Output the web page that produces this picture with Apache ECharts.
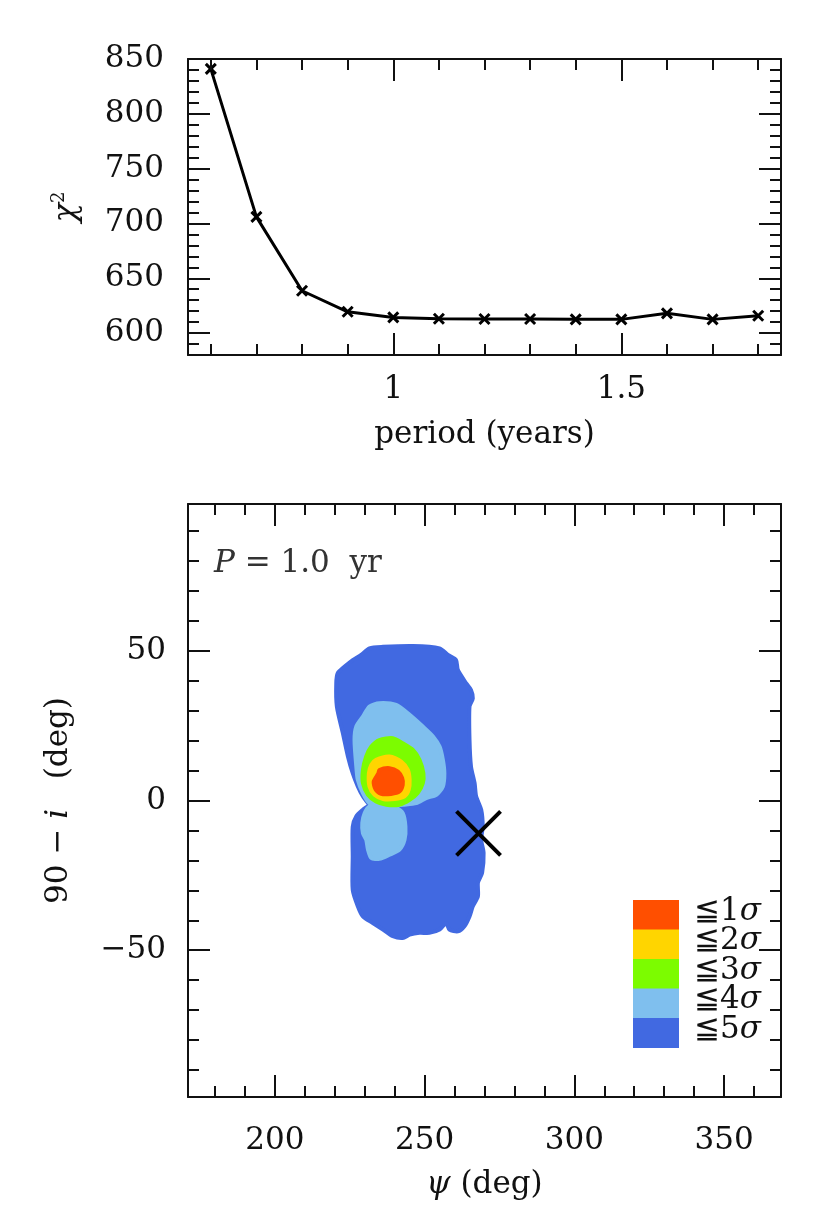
<!DOCTYPE html>
<html>
<head>
<meta charset="utf-8">
<script src="https://cdn.jsdelivr.net/npm/echarts@6/dist/echarts.min.js"></script>
<style>
html,body{margin:0;padding:0;background:#fff;}
#chart{width:830px;height:1226px;}
</style>
</head>
<body>
<div id="chart"></div>
<script>
// ---------- data: top panel ----------
const periods = [0.6, 0.7, 0.8, 0.9, 1.0, 1.1, 1.2, 1.3, 1.4, 1.5, 1.6, 1.7, 1.8];
const chi2 = [841, 706, 638.6, 619.4, 614.3, 613.1, 612.8, 612.8, 612.5, 612.5, 618, 612.5, 615.8];

const topXMinor = [0.6, 0.7, 0.8, 0.9, 1.0, 1.1, 1.2, 1.3, 1.4, 1.5, 1.6, 1.7, 1.8];
const topXMajor = [1.0, 1.5];
const topXLabels = [1, 1.5];
const topYMinor = [590, 600, 610, 620, 630, 640, 650, 660, 670, 680, 690, 700, 710, 720, 730, 740, 750, 760, 770, 780, 790, 800, 810, 820, 830, 840];
const topYMajor = [600, 650, 700, 750, 800, 850];
const topYLabels = [600, 650, 700, 750, 800, 850];

// ---------- data: bottom panel (psi, 90-i) ----------
const botXMinor = [180, 190, 200, 210, 220, 230, 240, 250, 260, 270, 280, 290, 300, 310, 320, 330, 340, 350, 360];
const botXMajor = [200, 250, 300, 350];
const botXLabels = [200, 250, 300, 350];
const botYMinor = [-90, -80, -70, -60, -50, -40, -30, -20, -10, 0, 10, 20, 30, 40, 50, 60, 70, 80, 90];
const botYMajor = [-50, 0, 50];
const botYLabels = [-50, 0, 50];

// region outlines (psi, 90-i)
const region5 = [
  [228.8,48.6],[231.6,50.8],[236.1,51.3],[246.1,51.6],[255.0,50.8],[257.8,48.6],[260.5,46.9],[261.1,43.6],
  [263.9,39.1],[265.5,36.9],[266.1,34.1],[265.0,31.4],[265.0,20.2],[265.5,11.3],[266.7,5.8],[267.2,1.4],
  [268.9,-3.1],[269.4,-8.7],[268.9,-13.1],[269.7,-17.5],[269.2,-24.2],[267.8,-27.5],[267.8,-32.0],[266.1,-35.3],
  [265.0,-38.7],[263.3,-42.0],[261.1,-43.7],[258.3,-43.1],[257.2,-40.9],[255.0,-43.1],[251.6,-44.2],[248.3,-44.2],
  [245.0,-44.8],[242.7,-45.9],[239.4,-45.3],[236.1,-43.1],[232.7,-40.9],[229.4,-38.7],[227.7,-35.3],[226.0,-29.8],
  [226.0,-18.6],[226.0,-8.7],[227.2,-5.3],[229.4,-3.1],[231.6,-1.4],[231.1,-0.9],[229.4,1.4],[227.7,4.7],
  [226.0,9.1],[224.4,14.7],[222.7,22.5],[220.7,31.4],[220.5,39.1],[221.0,42.5],[223.3,44.7],[226.0,46.9]
];
const region4a = [
  [234.9,32.5],[240.5,31.9],[245.0,28.6],[249.4,24.7],[252.8,21.4],[255.0,18.0],[256.1,13.6],[256.6,9.1],
  [256.1,4.7],[253.9,1.9],[250.5,0.8],[247.2,-0.9],[242.7,-1.4],[238.3,-1.8],[234.9,-2.0],[231.6,-0.9],
  [229.4,2.5],[227.7,6.9],[227.2,11.3],[226.6,20.2],[227.2,24.7],[229.4,28.0],[231.6,31.4]
];
const region4b = [
  [231.6,-2.0],[236.1,-1.4],[240.5,-2.5],[242.7,-4.2],[243.6,-8.7],[243.3,-13.1],[241.6,-16.4],[238.3,-18.1],
  [234.9,-19.5],[232.2,-19.2],[231.1,-16.4],[230.5,-13.1],[229.4,-10.9],[229.2,-7.5],[230.0,-4.2]
];
const region3 = [
  [234.9,20.2],[239.4,20.8],[242.7,19.1],[246.1,16.9],[248.3,13.6],[249.6,9.1],[249.4,5.8],[247.7,2.5],
  [245.0,0.2],[241.6,-1.4],[237.2,-1.4],[233.8,-0.3],[231.1,1.9],[229.4,5.8],[229.4,10.2],[230.5,14.7],[232.2,18.0]
];
const region2 = [
  [233.8,13.6],[238.3,14.7],[242.2,13.0],[244.4,10.2],[245.0,6.9],[244.7,3.6],[243.3,1.4],[240.0,0.5],
  [236.1,0.5],[233.3,1.9],[231.6,4.7],[231.4,9.1],[232.2,11.9]
];
const region1 = [
  [234.9,10.2],[238.3,10.8],[241.1,9.7],[242.5,7.5],[242.7,5.2],[241.6,3.0],[238.8,2.2],[235.5,2.2],
  [233.6,3.8],[233.0,6.3],[234.6,9.1]
];
const crossPoint = [[268, -11]];

const legendLabels = ['1', '2', '3', '4', '5'];
const colors = {
  s1: '#ff4f00', s2: '#ffd500', s3: '#7cfc00', s4: '#7fbfee', s5: '#4169e1'
};

// ---------- styling helpers ----------
const FONT = 'DejaVu Serif';
const FS = 31;
const INK = '#111';
const minus = v => String(v).replace('-', '\u2212');

function axisGroup(dir, gridIndex, min, max, minor, major, labels, extra) {
  const main = dir === 'x' ? 'bottom' : 'left';
  const opp = dir === 'x' ? 'top' : 'right';
  const base = {type: 'value', gridIndex, min, max, splitLine: {show: false}, z: 5};
  const line = {show: true, onZero: false, lineStyle: {color: INK, width: 2}};
  const noLine = {show: false, onZero: false};
  return [
    Object.assign({}, base, {
      position: main, axisLine: line,
      axisTick: {show: true, inside: true, length: 22, customValues: major, lineStyle: {color: INK, width: 2}},
      axisLabel: {show: true, customValues: labels, formatter: minus, margin: extra.margin,
        fontFamily: FONT, fontSize: FS, color: INK},
      name: extra.name, nameLocation: 'middle', nameGap: extra.nameGap,
      nameRotate: dir === 'y' ? 90 : 0,
      nameTextStyle: extra.nameStyle
    }),
    Object.assign({}, base, {
      position: main, axisLine: noLine,
      axisTick: {show: true, inside: true, length: 11, customValues: minor, lineStyle: {color: INK, width: 2}},
      axisLabel: {show: false}
    }),
    Object.assign({}, base, {
      position: opp, axisLine: line,
      axisTick: {show: true, inside: true, length: 22, customValues: major, lineStyle: {color: INK, width: 2}},
      axisLabel: {show: false}
    }),
    Object.assign({}, base, {
      position: opp, axisLine: noLine,
      axisTick: {show: true, inside: true, length: 11, customValues: minor, lineStyle: {color: INK, width: 2}},
      axisLabel: {show: false}
    })
  ];
}

const nameBase = {fontFamily: FONT, fontSize: FS, color: INK};
const italic = {fontFamily: FONT, fontSize: FS, fontStyle: 'italic', color: INK};

const xAxes = [].concat(
  axisGroup('x', 0, 0.55, 1.85, topXMinor, topXMajor, topXLabels,
    {margin: 19, name: 'period (years)', nameGap: 64, nameStyle: nameBase}),
  axisGroup('x', 1, 171, 369, botXMinor, botXMajor, botXLabels,
    {margin: 28, name: '{i|\u03c8} (deg)', nameGap: 72,
     nameStyle: Object.assign({}, nameBase, {rich: {i: italic}})})
);
const yAxes = [].concat(
  axisGroup('y', 0, 580, 850, topYMinor, topYMajor, topYLabels,
    {margin: 24, name: '{c|\u03c7}{s|2}', nameGap: 104,
     nameStyle: Object.assign({}, nameBase, {rich: {
       c: {fontFamily: FONT, fontSize: 32, fontStyle: 'italic', color: INK},
       s: {fontFamily: FONT, fontSize: 18, color: INK, padding: [0, 0, 16, 0]}
     }})}),
  axisGroup('y', 1, -99, 99, botYMinor, botYMajor, botYLabels,
    {margin: 22, name: '90 \u2212 {i|i}   (deg)', nameGap: 114,
     nameStyle: Object.assign({}, nameBase, {rich: {i: italic}})})
);

function polySeries(pts, color, z) {
  return {
    type: 'custom', xAxisIndex: 4, yAxisIndex: 4, z: z,
    data: pts,
    renderItem: function (params, api) {
      if (params.dataIndex !== 0) return null;
      const points = pts.map(p => api.coord(p));
      return {
        type: 'polygon',
        shape: {points: points, smooth: 0.25},
        style: {fill: color, stroke: color, lineWidth: 4, lineJoin: 'round'}
      };
    }
  };
}

const legendColors = [colors.s1, colors.s2, colors.s3, colors.s4, colors.s5];
const legendGraphics = [];
legendColors.forEach((c, k) => {
  legendGraphics.push({type: 'rect', left: 633, top: 900 + k * 29.5, z: 20,
    shape: {width: 46, height: 30}, style: {fill: c}});
  legendGraphics.push({type: 'text', left: 694, top: 896 + k * 29.5, z: 21,
    style: {text: '\u2266' + legendLabels[k] + '{s|\u03c3}', font: FS + 'px "DejaVu Serif"', fill: INK,
      rich: {s: {fontFamily: FONT, fontSize: FS, fontStyle: 'italic', fill: INK}}}});
});
legendGraphics.push({type: 'text', left: 214, top: 548, z: 21,
  style: {text: '{i|P} = 1.0  yr', font: FS + 'px "DejaVu Serif"', fill: '#333',
    rich: {i: {fontFamily: FONT, fontSize: FS, fontStyle: 'italic', fill: '#333'}}}});

const chart = echarts.init(document.getElementById('chart'), null, {renderer: 'canvas'});
chart.setOption({
  backgroundColor: '#fff',
  animation: false,
  grid: [
    {left: 188, top: 59, width: 593, height: 296},
    {left: 188, top: 504, width: 593, height: 593}
  ],
  xAxis: xAxes,
  yAxis: yAxes,
  graphic: legendGraphics,
  series: [
    {
      type: 'line', xAxisIndex: 0, yAxisIndex: 0,
      data: periods.map((p, k) => [p, chi2[k]]),
      lineStyle: {color: '#000', width: 3},
      symbol: 'path://M0,0L10,10M10,0L0,10', symbolSize: 10,
      itemStyle: {color: '#000', borderColor: '#000', borderWidth: 3},
      z: 3
    },
    polySeries(region5, colors.s5, 2),
    polySeries(region4a, colors.s4, 3),
    polySeries(region4b, colors.s4, 3),
    polySeries(region3, colors.s3, 4),
    polySeries(region2, colors.s2, 5),
    polySeries(region1, colors.s1, 6),
    {
      type: 'custom', xAxisIndex: 4, yAxisIndex: 4, z: 8,
      data: crossPoint,
      renderItem: function (params, api) {
        const c = api.coord([api.value(0), api.value(1)]);
        const h = 22;
        return {type: 'group', children: [
          {type: 'line', shape: {x1: c[0] - h, y1: c[1] - h, x2: c[0] + h, y2: c[1] + h}, style: {stroke: '#000', lineWidth: 4}},
          {type: 'line', shape: {x1: c[0] - h, y1: c[1] + h, x2: c[0] + h, y2: c[1] - h}, style: {stroke: '#000', lineWidth: 4}}
        ]};
      }
    }
  ]
});
</script>
</body>
</html>
